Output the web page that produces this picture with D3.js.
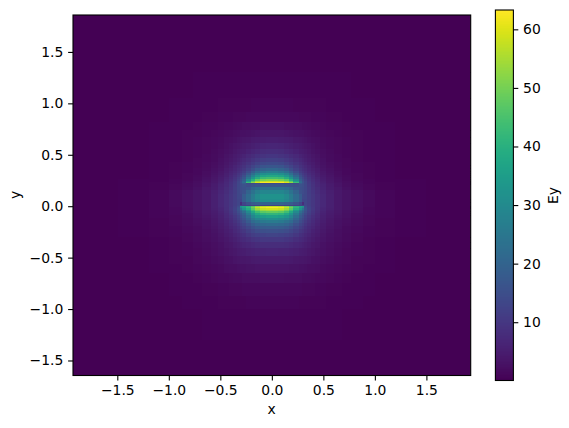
<!DOCTYPE html>
<html><head><meta charset="utf-8">
<script src="https://cdn.jsdelivr.net/npm/d3@7"></script>
<style>html,body{margin:0;background:#fff}svg{display:block}text{font-family:"DejaVu Sans";fill:#000}</style>
</head><body><svg id="c" width="569" height="428"></svg>
<script>
const xTicks=[-1.5,-1,-0.5,0,0.5,1,1.5];
const yTicks=[-1.5,-1,-0.5,0,0.5,1,1.5];
const cTicks=[10,20,30,40,50,60];
const xLabel="x",yLabel="y",cLabel="Ey";
const xExtent=[-1.93,1.93],yExtent=[-1.646,1.859],cExtent=[0.05,63.3];
// |x| band edges (field is read as mirror symmetric about x = 0)
const xEdges=[0,.06,.12,.17,.21,.26,.29,.31,.34,.38,.42,.47,.53,.60,.68,.77,.88,1.0,1.2,1.5,1.94];
// y band edges, top to bottom
const yEdges=[1.86,1.3,1.05,.92,.82,.74,.67,.61,.56,.51,.47,.43,.40,.37,.34,.32,.30,.28,.26,.245,.235,.225,.215,.19,.16,.12,.07,.04,.015,0,-.01,-.02,-.035,-.05,-.07,-.09,-.11,-.13,-.16,-.19,-.22,-.26,-.30,-.35,-.41,-.48,-.56,-.65,-.75,-.87,-1.0,-1.3,-1.65];
const ey=[
[.25,.25,.25,.25,.25,.25,.25,.24,.24,.24,.24,.23,.23,.23,.22,.22,.21,.21,.2,.2],
[.45,.45,.45,.45,.44,.43,.42,.42,.41,.4,.38,.37,.35,.33,.31,.29,.27,.24,.22,.2],
[.85,.85,.82,.8,.78,.75,.73,.71,.68,.65,.6,.56,.5,.45,.4,.35,.3,.26,.22,.2],
[1.5,1.5,1.45,1.4,1.35,1.28,1.22,1.18,1.1,1,.92,.82,.72,.62,.52,.44,.36,.28,.23,.2],
[2.6,2.55,2.45,2.3,2.2,2.05,1.95,1.85,1.7,1.52,1.35,1.15,.97,.8,.65,.52,.4,.3,.23,.2],
[3.7,3.6,3.4,3.2,3,2.75,2.6,2.45,2.2,1.95,1.7,1.42,1.17,.93,.74,.58,.43,.31,.23,.2],
[5,4.9,4.6,4.3,3.9,3.55,3.3,3.1,2.75,2.4,2.05,1.7,1.35,1.05,.82,.63,.46,.32,.23,.2],
[6.5,6.3,5.9,5.4,4.9,4.4,4.05,3.75,3.3,2.85,2.4,1.95,1.52,1.17,.88,.67,.48,.33,.23,.2],
[8,7.8,7.2,6.6,5.9,5.2,4.8,4.4,3.8,3.25,2.75,2.2,1.7,1.28,.95,.71,.5,.34,.23,.2],
[9.7,9.4,8.7,7.9,7,6.1,5.5,5,4.35,3.7,3.05,2.4,1.85,1.38,1,.74,.52,.35,.24,.2],
[11.7,11.3,10.4,9.3,8.1,7,6.3,5.7,4.85,4.1,3.4,2.65,2,1.48,1.07,.78,.54,.36,.24,.2],
[14,13.5,12.3,10.9,9.4,8,7.1,6.4,5.4,4.55,3.7,2.9,2.2,1.6,1.14,.82,.56,.37,.24,.2],
[17,16.4,14.6,12.7,10.7,9,8,7.1,6,5,4.1,3.2,2.4,1.75,1.22,.87,.59,.38,.24,.2],
[21,20,18,15,12.3,10.1,8.9,7.8,6.6,5.5,4.5,3.5,2.6,1.9,1.33,.92,.62,.4,.25,.2],
[26,25,22.5,18.5,14.5,11.4,9.9,8.6,7.2,6,4.9,3.8,2.8,2.05,1.42,.98,.65,.42,.26,.2],
[32,31,28,23,17.5,13,11,9.5,7.9,6.5,5.3,4.1,3.05,2.2,1.52,1.05,.68,.44,.27,.21],
[38,37,33.5,27.5,21,15,12.3,10.4,8.6,7,5.7,4.4,3.3,2.4,1.65,1.12,.72,.46,.28,.21],
[44,43,39.5,33,25,17,13.7,11.3,9.3,7.5,6.1,4.75,3.55,2.6,1.78,1.2,.77,.48,.29,.21],
[51,50,47,40,30,19,15,12.2,9.9,8,6.5,5.1,3.8,2.8,1.92,1.28,.82,.5,.3,.22],
[58,57,54,47,36,21,16,13,10.3,8.4,6.8,5.4,4.05,3,2.05,1.36,.87,.53,.31,.22],
[63,63,60,53,43,22,16.5,13.3,10.6,8.7,7,5.6,4.25,3.15,2.2,1.45,.92,.55,.32,.22],
[14,14,14,14,14,18,15.5,13.3,10.8,8.9,7.2,5.8,4.4,3.3,2.3,1.55,.97,.58,.33,.23],
[17,17,16.5,16,15,16,15,13.4,11,9.1,7.4,6,4.6,3.5,2.5,1.7,1.1,.65,.35,.24],
[23,23,22,20,17,15.5,14.7,13.4,11.2,9.4,7.8,6.3,4.9,3.8,2.7,1.9,1.25,.72,.38,.25],
[29,29,27,24,20,16,14.5,13.4,11.4,9.7,8.2,6.8,5.4,4.2,3.2,2.35,1.55,.9,.45,.27],
[32,32,30,26,22,18,14,13.5,11.5,10,8.5,7,5.6,4.2,3.2,2.35,1.55,.9,.45,.27],
[31,31,29,26,22,18,13,13,11.5,10,8.5,7,5.6,4.2,3.2,2.35,1.55,.9,.45,.27],
[20,20,19,18,16,13,8,13,11.5,10,8.5,7,5.6,4.2,3.2,2.35,1.55,.9,.45,.27],
[12,12,12,12,12,12,12,13.5,11.6,10,8.5,7,5.6,4.2,3.2,2.35,1.55,.9,.45,.27],
[57,56,52,46,40,36,33,14.5,12,10,8.5,7,5.6,4.2,3.2,2.35,1.55,.9,.45,.27],
[63,62,58,50,42,35,30,15.5,12.3,10.2,8.4,6.9,5.5,4.2,3.15,2.3,1.5,.9,.45,.27],
[59,58,54,47,39,32,25,16,12.5,10.2,8.3,6.7,5.3,4.1,3.1,2.25,1.5,.88,.45,.27],
[54,53,49,43,34,26,21,16,12.5,10,8.1,6.5,5.1,4,3,2.2,1.45,.86,.45,.27],
[48,47,44,38,30,23,19,15,12,9.7,7.8,6.2,4.9,3.8,2.85,2.05,1.4,.84,.44,.26],
[42,41,38,33,26,20,17,13.7,11.2,9.2,7.4,5.9,4.65,3.6,2.7,1.95,1.35,.82,.43,.26],
[36,35,33,29,23,18,15.5,12.6,10.4,8.6,7,5.6,4.4,3.4,2.55,1.85,1.28,.8,.42,.25],
[31,30,28.5,25.5,20.5,16.5,14.2,11.7,9.7,8.1,6.6,5.3,4.2,3.2,2.42,1.75,1.2,.76,.4,.25],
[26,25.5,24,22,18,14.7,12.8,10.7,9,7.5,6.2,5,3.95,3,2.28,1.65,1.13,.72,.38,.24],
[22,21.5,20.5,18.5,15.5,13,11.5,9.8,8.3,7,5.8,4.7,3.7,2.85,2.15,1.55,1.06,.68,.36,.24],
[18.5,18.2,17.3,15.7,13.5,11.5,10.3,8.9,7.6,6.5,5.4,4.4,3.5,2.7,2,1.46,1,.64,.34,.23],
[15.5,15.2,14.5,13.3,11.7,10.1,9.2,8,7,5.9,5,4.1,3.25,2.5,1.87,1.36,.93,.6,.32,.23],
[12.8,12.6,12,11.2,10,8.8,8.1,7.2,6.3,5.4,4.6,3.75,3,2.3,1.72,1.26,.86,.56,.3,.22],
[10.3,10.2,9.8,9.2,8.4,7.5,7,6.3,5.6,4.85,4.1,3.4,2.7,2.1,1.57,1.15,.78,.52,.29,.22],
[8.2,8.1,7.8,7.4,6.9,6.3,5.9,5.4,4.85,4.25,3.6,3,2.4,1.87,1.4,1.03,.7,.47,.27,.21],
[6.3,6.2,6,5.8,5.5,5.1,4.8,4.5,4.05,3.6,3.1,2.6,2.1,1.65,1.24,.9,.62,.42,.26,.21],
[4.7,4.7,4.6,4.4,4.2,4,3.8,3.6,3.3,3,2.6,2.2,1.8,1.4,1.07,.78,.55,.37,.25,.2],
[3.4,3.4,3.35,3.25,3.1,3,2.85,2.7,2.5,2.3,2.05,1.75,1.45,1.15,.88,.66,.47,.33,.24,.2],
[2.3,2.3,2.25,2.2,2.15,2.05,2,1.9,1.8,1.65,1.5,1.3,1.1,.9,.7,.53,.39,.29,.23,.2],
[1.45,1.45,1.42,1.4,1.35,1.3,1.27,1.22,1.17,1.1,1,.88,.77,.65,.52,.41,.32,.26,.22,.2],
[.85,.85,.84,.82,.8,.78,.76,.74,.72,.68,.63,.57,.51,.44,.37,.31,.27,.23,.21,.2],
[.42,.42,.42,.41,.41,.4,.4,.39,.38,.37,.36,.34,.32,.3,.27,.25,.23,.22,.2,.2],
[.24,.24,.24,.24,.24,.24,.24,.23,.23,.23,.23,.23,.22,.22,.22,.21,.21,.2,.2,.2]
];

const box={l:73,r:470.7,t:15,b:375.5};
const cb={l:495.4,r:513.4,t:10,b:380.5};
const lw=1.1,tl=4.9,fs=13.9;
const fmt=v=>v.toFixed(1).replace("-","\u2212");
const svg=d3.select("#c");
const X=d3.scaleLinear().domain(xExtent).range([box.l,box.r]);
const Y=d3.scaleLinear().domain(yExtent).range([box.b,box.t]);
const C=d3.scaleLinear().domain(cExtent).range([cb.b,cb.t]);
const color=v=>d3.interpolateViridis((v-cExtent[0])/(cExtent[1]-cExtent[0]));

svg.append("clipPath").attr("id","pl").append("rect").attr("x",box.l).attr("y",box.t).attr("width",box.r-box.l).attr("height",box.b-box.t);
const cells=[];
ey.forEach((row,j)=>row.forEach((v,i)=>{[1,-1].forEach(s=>cells.push({s,i,j,v}));}));
svg.append("g").attr("clip-path","url(#pl)").attr("shape-rendering","crispEdges")
 .selectAll("rect").data(cells).join("rect")
 .attr("x",d=>Math.min(X(d.s*xEdges[d.i]),X(d.s*xEdges[d.i+1])))
 .attr("width",d=>Math.abs(X(xEdges[d.i+1])-X(xEdges[d.i]))+.5)
 .attr("y",d=>Y(yEdges[d.j]))
 .attr("height",d=>Y(yEdges[d.j+1])-Y(yEdges[d.j])+.5)
 .attr("fill",d=>color(d.v));

function styleAxis(g){
 g.selectAll("path").remove();
 g.selectAll("line").attr("stroke","#000").attr("stroke-width",lw);
 g.selectAll("text").style("font-size",fs+"px").style("font-family","DejaVu Sans").attr("fill","#000");
}
svg.append("g").attr("transform",`translate(0,${box.b})`)
 .call(d3.axisBottom(X).tickValues(xTicks).tickFormat(fmt).tickSize(tl).tickPadding(4.8)).call(styleAxis);
svg.append("g").attr("transform",`translate(${box.l},0)`)
 .call(d3.axisLeft(Y).tickValues(yTicks).tickFormat(fmt).tickSize(tl).tickPadding(4.8)).call(styleAxis);
svg.append("rect").attr("x",box.l).attr("y",box.t).attr("width",box.r-box.l).attr("height",box.b-box.t)
 .attr("fill","none").attr("stroke","#000").attr("stroke-width",lw);

const steps=d3.range(256).map(i=>cExtent[0]+(cExtent[1]-cExtent[0])*i/256);
const stepH=(cExtent[1]-cExtent[0])/256;
svg.append("g").attr("shape-rendering","crispEdges").selectAll("rect").data(steps).join("rect")
 .attr("x",cb.l).attr("width",cb.r-cb.l)
 .attr("y",d=>C(d+stepH)).attr("height",d=>C(d)-C(d+stepH)+.5)
 .attr("fill",d=>color(d+stepH/2));
svg.append("g").attr("transform",`translate(${cb.r},0)`)
 .call(d3.axisRight(C).tickValues(cTicks).tickFormat(d3.format("d")).tickSize(tl).tickPadding(4.8)).call(styleAxis);
svg.append("rect").attr("x",cb.l).attr("y",cb.t).attr("width",cb.r-cb.l).attr("height",cb.b-cb.t)
 .attr("fill","none").attr("stroke","#000").attr("stroke-width",lw);

const lab=(t,x,y,r)=>svg.append("text").text(t).attr("text-anchor","middle").attr("dominant-baseline","middle")
 .attr("transform",`translate(${x},${y})`+(r?" rotate(-90)":"")).style("font-size",fs+"px");
lab(xLabel,271.5,410,false);
lab(yLabel,16,195,true);
lab(cLabel,553.5,195.5,true);
</script></body></html>
